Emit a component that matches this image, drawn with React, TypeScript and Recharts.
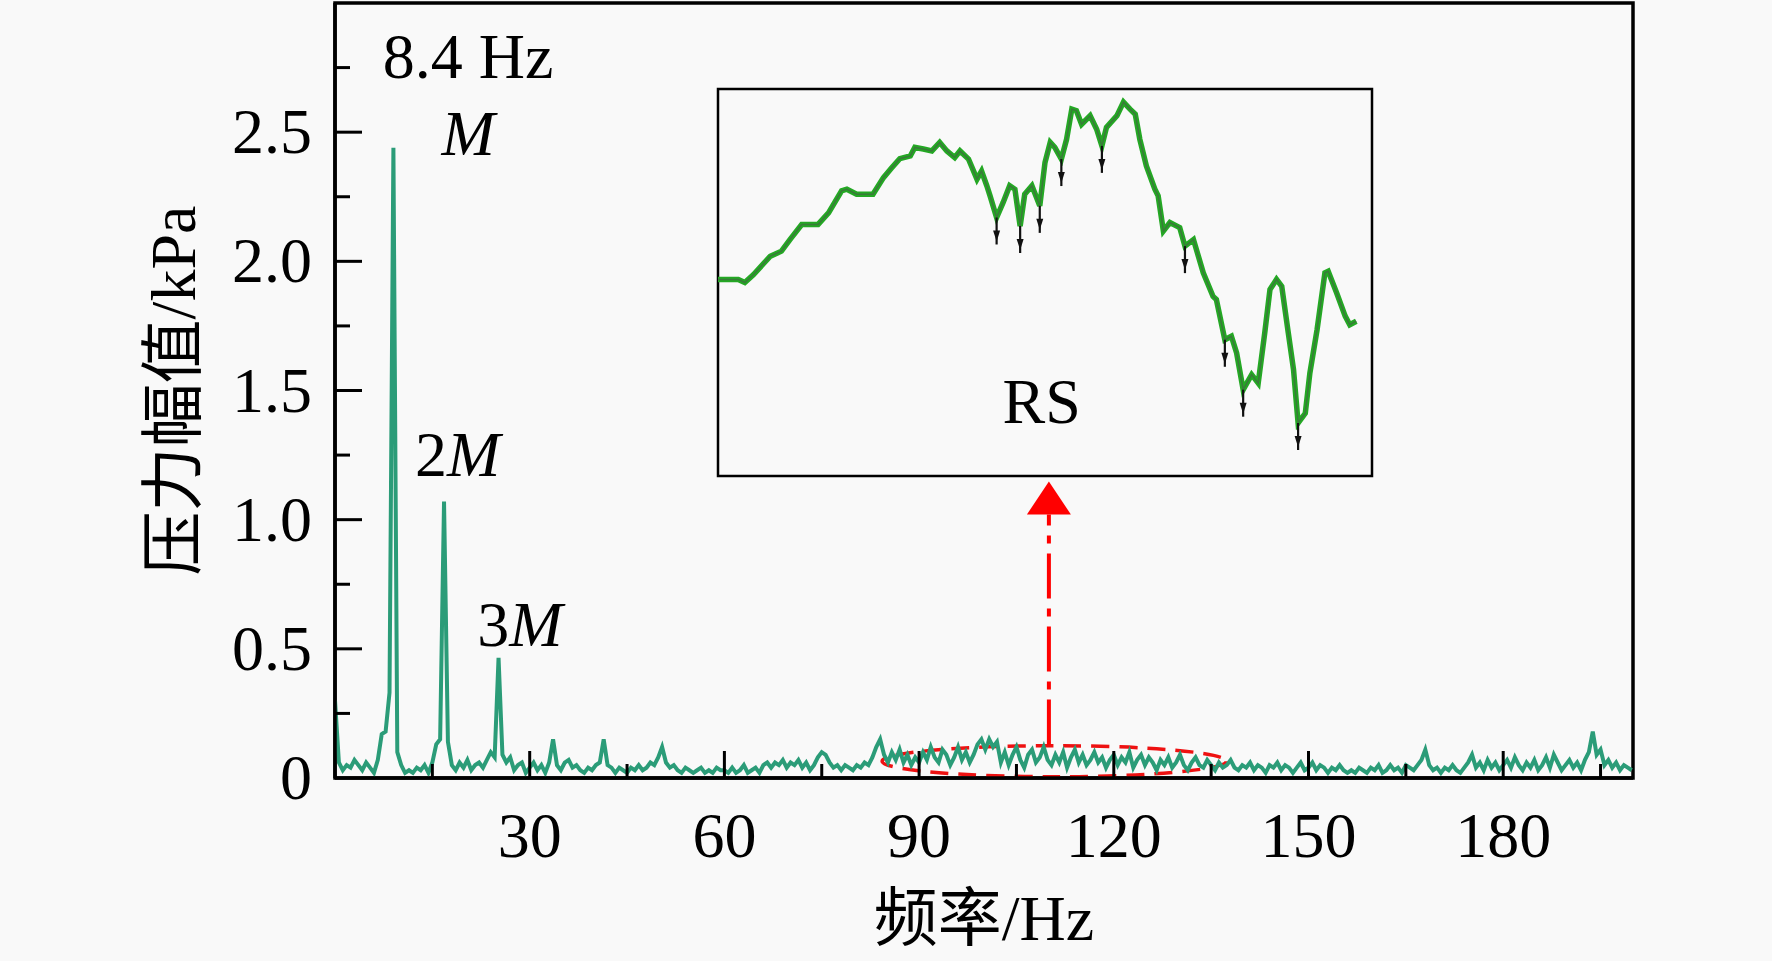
import React from 'react';
import {
  LineChart,
  Line,
  XAxis,
  YAxis,
  ReferenceArea,
  ReferenceLine,
  ReferenceDot
} from 'recharts';

// spectrum sampled every 0.6 Hz, one array per 30 Hz band (kPa)
const FREQ_STEP = 0.6;
const bandStarts = [0, 30, 60, 90, 120, 150, 180];

const amp0to30 = [
  0.30, 0.06, 0.03, 0.05, 0.04, 0.07, 0.05, 0.03, 0.06, 0.04,
  0.02, 0.07, 0.17, 0.18, 0.33, 2.44, 0.10, 0.05, 0.02, 0.03,
  0.02, 0.04, 0.03, 0.05, 0.02, 0.06, 0.13, 0.15, 1.07, 0.14,
  0.05, 0.03, 0.06, 0.04, 0.07, 0.03, 0.05, 0.06, 0.04, 0.07,
  0.10, 0.08, 0.465, 0.09, 0.06, 0.08, 0.03, 0.05, 0.06, 0.02
];
const amp30to60 = [
  0.04, 0.06, 0.03, 0.05, 0.02, 0.06, 0.15, 0.05, 0.03, 0.06,
  0.07, 0.04, 0.05, 0.03, 0.02, 0.04, 0.03, 0.05, 0.06, 0.15,
  0.05, 0.04, 0.02, 0.04, 0.03, 0.02, 0.04, 0.03, 0.05, 0.03,
  0.04, 0.06, 0.05, 0.08, 0.12, 0.06, 0.04, 0.05, 0.03, 0.02,
  0.04, 0.03, 0.02, 0.03, 0.04, 0.02, 0.03, 0.02, 0.04, 0.03
];
const amp60to90 = [
  0.03, 0.02, 0.04, 0.02, 0.03, 0.05, 0.02, 0.03, 0.04, 0.02,
  0.05, 0.06, 0.04, 0.06, 0.05, 0.07, 0.04, 0.06, 0.05, 0.07,
  0.04, 0.06, 0.03, 0.05, 0.08, 0.10, 0.09, 0.06, 0.04, 0.05,
  0.03, 0.05, 0.04, 0.03, 0.05, 0.04, 0.06, 0.05, 0.08, 0.12,
  0.15, 0.09, 0.06, 0.10, 0.07, 0.11, 0.06, 0.09, 0.05, 0.08
];
const amp90to120 = [
  0.06, 0.10, 0.07, 0.12, 0.08, 0.06, 0.11, 0.09, 0.05, 0.08,
  0.12, 0.07, 0.10, 0.06, 0.09, 0.13, 0.15, 0.11, 0.15, 0.12,
  0.14, 0.06, 0.10, 0.05, 0.09, 0.12, 0.07, 0.04, 0.09, 0.11,
  0.06, 0.08, 0.12, 0.07, 0.05, 0.09, 0.06, 0.10, 0.04, 0.08,
  0.11, 0.06, 0.09, 0.05, 0.07, 0.10, 0.06, 0.08, 0.04, 0.07
];
const amp120to150 = [
  0.09, 0.05, 0.08, 0.06, 0.10, 0.04, 0.07, 0.09, 0.05, 0.08,
  0.06, 0.03, 0.07, 0.05, 0.08, 0.04, 0.06, 0.09, 0.05, 0.03,
  0.06, 0.08, 0.05, 0.04, 0.07, 0.05, 0.03, 0.06, 0.04, 0.05,
  0.07, 0.04, 0.03, 0.05, 0.04, 0.06, 0.03, 0.05, 0.04, 0.02,
  0.05, 0.04, 0.06, 0.03, 0.05, 0.04, 0.02, 0.04, 0.06, 0.03
];
const amp150to180 = [
  0.04, 0.06, 0.03, 0.05, 0.04, 0.02, 0.04, 0.03, 0.05, 0.03,
  0.02, 0.03, 0.02, 0.04, 0.03, 0.02, 0.04, 0.03, 0.05, 0.02,
  0.03, 0.05, 0.03, 0.04, 0.02, 0.05, 0.04, 0.03, 0.05, 0.07,
  0.11, 0.05, 0.03, 0.04, 0.02, 0.04, 0.03, 0.05, 0.03, 0.02,
  0.04, 0.06, 0.09, 0.04, 0.06, 0.03, 0.07, 0.04, 0.06, 0.03
];
const amp180to200 = [
  0.05, 0.07, 0.04, 0.08, 0.05, 0.03, 0.06, 0.04, 0.07, 0.03,
  0.05, 0.08, 0.04, 0.09, 0.06, 0.03, 0.05, 0.07, 0.04, 0.06,
  0.03, 0.07, 0.10, 0.18, 0.09, 0.11, 0.05, 0.07, 0.04, 0.06,
  0.03, 0.05, 0.04, 0.03
];

const xTicks = [0, 15, 30, 45, 60, 75, 90, 105, 120, 135, 150, 165, 180, 195];
const yTicks = [0, 0.25, 0.5, 0.75, 1, 1.25, 1.5, 1.75, 2, 2.25, 2.5, 2.75];

// inset (zoomed RS curve), arbitrary units 0-100 across the box
const insetPos = [
  0, 3.1, 4.1, 5.4, 8.0, 9.7, 11.0, 12.8, 15.3, 16.9,
  18.9, 19.7, 21.2, 23.7, 25.3, 26.6, 27.8, 29.4, 30.1, 31.4,
  32.7, 33.9, 35.0, 36.2, 37.0, 38.3, 39.6, 40.3, 41.1, 41.6,
  42.6, 43.6, 44.6, 45.4, 46.2, 46.9, 48.0, 49.2, 50.0, 50.8,
  51.5, 52.5, 53.3, 54.1, 54.8, 55.6, 56.9, 57.9, 58.7, 59.4,
  61.0, 62.0, 63.0, 63.8, 64.5, 65.5, 66.8, 67.3, 68.1, 69.1,
  70.6, 71.4, 72.7, 74.2, 75.7, 76.2, 77.5, 78.5, 79.3, 80.3,
  81.6, 82.6, 83.6, 84.4, 85.4, 86.2, 87.2, 88.0, 88.7, 89.8,
  90.5, 91.6, 92.8, 93.3, 94.6, 95.9, 96.6, 97.6
];
const insetAmp = [
  50.8, 50.8, 50.0, 52.0, 56.8, 58.1, 61.1, 65.0, 65.0, 68.0,
  73.7, 74.1, 72.8, 72.8, 77.1, 79.7, 82.0, 82.7, 84.9, 84.5,
  84.0, 86.2, 84.0, 82.3, 84.0, 81.9, 76.7, 78.8, 75.0, 72.4,
  66.8, 70.7, 75.0, 74.1, 64.6, 72.8, 75.0, 69.8, 81.0, 86.2,
  84.9, 81.9, 87.0, 94.8, 94.4, 90.9, 93.1, 89.6, 85.3, 90.1,
  93.1, 96.6, 94.8, 93.5, 87.0, 80.1, 74.1, 72.4, 63.3, 65.5,
  64.2, 59.4, 61.1, 52.5, 46.4, 45.6, 35.2, 36.1, 31.8, 22.3,
  26.2, 24.0, 37.0, 48.2, 50.8, 49.0, 37.0, 27.5, 13.7, 16.2,
  26.6, 37.8, 52.5, 52.9, 47.3, 41.3, 39.1, 40.0
];
const insetMarks = [42.6, 46.2, 49.2, 52.5, 58.7, 71.4, 77.5, 80.3, 88.7];

const spectrum = [amp0to30, amp30to60, amp60to90, amp90to120, amp120to150, amp150to180, amp180to200]
  .flatMap((vals, b) => vals.map((a, i) => ({ f: +(bandStarts[b] + i * FREQ_STEP).toFixed(1), a })));

const insetData = insetPos.map((u, i) => ({ u, v: insetAmp[i] }));

const SERIF = '"Liberation Serif", "Times New Roman", "Noto Sans CJK SC", serif';
const FONT = 64;
const LINE_COLOR = '#2b9c78';
const AXIS_W = 3.5;

const renderXTick = (props: any) => {
  const { x, y, payload } = props;
  const v = payload.value;
  const major = v % 30 === 0;
  return (
    <g>
      {v > 0 && (
        <line x1={x} y1={y} x2={x} y2={y - (major ? 27 : 14)} stroke="#000" strokeWidth={3} />
      )}
      {major && v > 0 && (
        <text x={x} y={y + 79} textAnchor="middle" fontFamily={SERIF} fontSize={FONT} fill="#000">
          {v}
        </text>
      )}
    </g>
  );
};

const renderYTick = (props: any) => {
  const { x, y, payload } = props;
  const v = payload.value;
  const major = Math.abs(v * 2 - Math.round(v * 2)) < 1e-6;
  return (
    <g>
      {v > 0 && (
        <line x1={x} y1={y} x2={x + (major ? 27 : 15)} y2={y} stroke="#000" strokeWidth={3} />
      )}
      {major && (
        <text x={x - 23} y={y + 21} textAnchor="end" fontFamily={SERIF} fontSize={FONT} fill="#000">
          {v === 0 ? '0' : v.toFixed(1)}
        </text>
      )}
    </g>
  );
};

const renderXTitle = (props: any) => {
  const vb = props.viewBox || { x: 335, y: 778, width: 1298, height: 183 };
  return (
    <text x={vb.x + vb.width / 2} y={vb.y + 162} textAnchor="middle" fontFamily={SERIF} fontSize={FONT} fill="#000">
      频率/Hz
    </text>
  );
};

const renderYTitle = (props: any) => {
  const vb = props.viewBox || { x: 0, y: 3, width: 335, height: 776 };
  const cx = vb.x + 195;
  const cy = vb.y + vb.height / 2;
  return (
    <text
      x={cx}
      y={cy}
      transform={`rotate(-90 ${cx} ${cy})`}
      textAnchor="middle"
      fontFamily={SERIF}
      fontSize={FONT}
      fill="#000"
    >
      压力幅值/kPa
    </text>
  );
};

const textShape = (content: React.ReactNode) => (p: any) => (
  <text x={p.cx} y={p.cy} textAnchor="middle" fontFamily={SERIF} fontSize={FONT} fill="#000">
    {content}
  </text>
);

const ellipseShape = (p: any) => (
  <ellipse
    cx={p.x + p.width / 2}
    cy={p.y + p.height / 2}
    rx={p.width / 2}
    ry={p.height / 2}
    fill="none"
    stroke="#ee1111"
    strokeWidth={3.5}
    strokeDasharray="18 10"
  />
);

const arrowHeadShape = (p: any) => (
  <path d={`M${p.cx},${p.cy - 33} L${p.cx - 22},${p.cy} L${p.cx + 22},${p.cy} Z`} fill="#ff0000" />
);

const renderInsetMark = (p: any) => {
  const { cx, cy, payload, index } = p;
  if (!insetMarks.includes(payload.u)) return <g key={index} />;
  return (
    <g key={index}>
      <line x1={cx} y1={cy} x2={cx} y2={cy + 27} stroke="#111" strokeWidth={2.2} />
      <path d={`M${cx - 3.5},${cy + 13} L${cx + 3.5},${cy + 13} L${cx},${cy + 24} Z`} fill="#111" />
    </g>
  );
};

export default function App() {
  return (
    <div style={{ position: 'absolute', left: 0, top: 0, width: 1772, height: 961, background: '#f9f9f9' }}>
      <LineChart width={1772} height={961} data={spectrum} margin={{ top: 3, right: 139, bottom: 0, left: 0 }}>
        <XAxis
          dataKey="f"
          type="number"
          domain={[0, 200]}
          ticks={xTicks}
          interval={0}
          tick={renderXTick}
          tickLine={false}
          tickSize={0}
          tickMargin={0}
          height={183}
          axisLine={{ stroke: '#000', strokeWidth: AXIS_W }}
          allowDataOverflow
          label={renderXTitle}
        />
        <YAxis
          type="number"
          domain={[0, 3]}
          ticks={yTicks}
          interval={0}
          tick={renderYTick}
          tickLine={false}
          tickSize={0}
          tickMargin={0}
          width={335}
          axisLine={{ stroke: '#000', strokeWidth: AXIS_W }}
          allowDataOverflow
          label={renderYTitle}
        />
        <ReferenceArea x1={0} x2={200} y1={0} y2={3} fill="none" stroke="#000" strokeWidth={AXIS_W} ifOverflow="visible" />
        <ReferenceArea x1={84.3} x2={137.3} y1={0.005} y2={0.125} shape={ellipseShape} ifOverflow="visible" />
        <Line
          type="linear"
          dataKey="a"
          stroke={LINE_COLOR}
          strokeWidth={4}
          dot={false}
          isAnimationActive={false}
        />
        <ReferenceLine
          segment={[{ x: 110, y: 0.13 }, { x: 110, y: 1.02 }]}
          stroke="#ff0000"
          strokeWidth={4}
          strokeDasharray="45 10 8 10"
        />
        <ReferenceDot x={110} y={1.02} r={0} shape={arrowHeadShape} ifOverflow="visible" />
        <ReferenceDot x={20.5} y={2.71} r={0} shape={textShape('8.4 Hz')} ifOverflow="visible" />
        <ReferenceDot x={20.5} y={2.41} r={0} shape={textShape(<tspan fontStyle="italic">M</tspan>)} ifOverflow="visible" />
        <ReferenceDot
          x={18.9}
          y={1.17}
          r={0}
          shape={textShape(<><tspan>2</tspan><tspan fontStyle="italic">M</tspan></>)}
          ifOverflow="visible"
        />
        <ReferenceDot
          x={28.5}
          y={0.51}
          r={0}
          shape={textShape(<><tspan>3</tspan><tspan fontStyle="italic">M</tspan></>)}
          ifOverflow="visible"
        />
      </LineChart>

      <div style={{ position: 'absolute', left: 716, top: 87 }}>
        <LineChart width={658} height={391} data={insetData} margin={{ top: 2, right: 2, bottom: 2, left: 2 }}>
          <XAxis dataKey="u" type="number" domain={[0, 100]} hide />
          <YAxis type="number" domain={[0, 100]} hide />
          <ReferenceArea x1={0} x2={100} y1={0} y2={100} fill="none" stroke="#000" strokeWidth={2.5} ifOverflow="visible" />
          <Line
            type="linear"
            dataKey="v"
            stroke="#24a824"
            strokeWidth={5.5}
            dot={false}
            isAnimationActive={false}
          />
          <Line
            type="linear"
            dataKey="v"
            stroke="#4a5a4a"
            strokeWidth={1.5}
            strokeOpacity={0.6}
            dot={renderInsetMark}
            isAnimationActive={false}
          />
          <ReferenceDot x={49.5} y={13.7} r={0} shape={textShape('RS')} ifOverflow="visible" />
        </LineChart>
      </div>
    </div>
  );
}
